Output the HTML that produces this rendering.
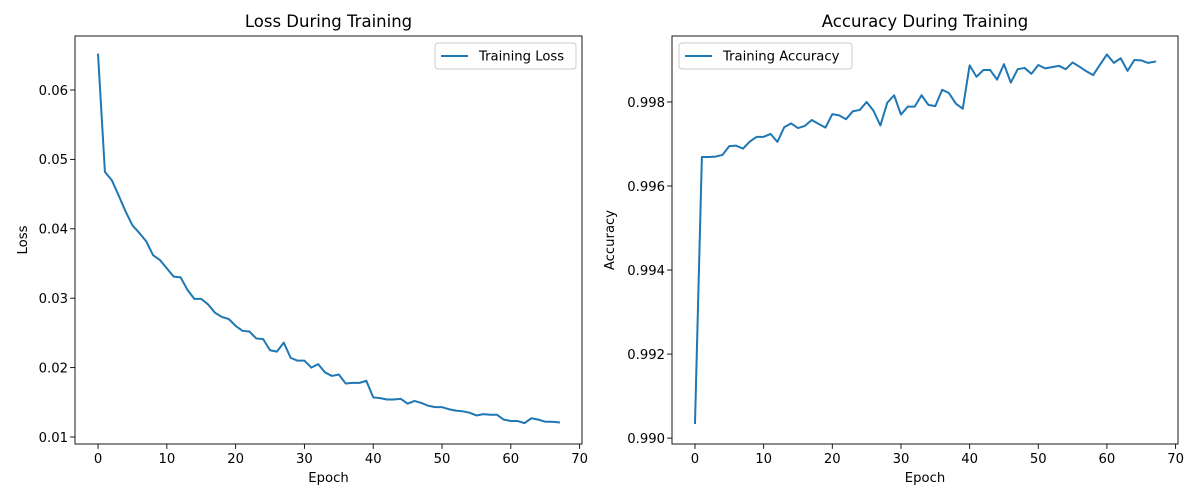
<!DOCTYPE html>
<html><head><meta charset="utf-8"><style>
html,body{margin:0;padding:0;background:#fff;}
svg{display:block;font-family:"DejaVu Sans","Liberation Sans",sans-serif;}
</style></head><body>
<svg id="fig" width="1200" height="500" viewBox="0 0 1200 500" xmlns="http://www.w3.org/2000/svg"></svg>
<script>
const epochs = Array.from({length:68},(_, i)=>i);
const lossValues = [0.0651,0.0482,0.0470,0.0448,0.0425,0.0405,0.0394,0.0382,0.0362,0.0355,0.0343,0.0331,0.0330,0.0312,0.0299,0.0299,0.0291,0.0279,0.0273,0.0270,0.0260,0.0253,0.0252,0.0242,0.0241,0.0225,0.0223,0.0236,0.0214,0.0210,0.0210,0.0200,0.0205,0.0193,0.0188,0.0190,0.0177,0.0178,0.0178,0.0181,0.0157,0.0156,0.0154,0.0154,0.0155,0.0148,0.0152,0.0149,0.0145,0.0143,0.0143,0.0140,0.0138,0.0137,0.0135,0.0131,0.0133,0.0132,0.0132,0.0125,0.0123,0.0123,0.0120,0.0127,0.0125,0.0122,0.0122,0.0121];
const accValues = [0.99036,0.99669,0.99669,0.99670,0.99674,0.99695,0.99696,0.99689,0.99706,0.99717,0.99717,0.99724,0.99705,0.99740,0.99749,0.99738,0.99743,0.99757,0.99748,0.99739,0.99771,0.99768,0.99759,0.99778,0.99781,0.99800,0.99779,0.99744,0.99798,0.99816,0.99770,0.99789,0.99789,0.99816,0.99793,0.99790,0.99829,0.99821,0.99796,0.99784,0.99887,0.99860,0.99876,0.99876,0.99853,0.99890,0.99846,0.99878,0.99881,0.99867,0.99888,0.99880,0.99883,0.99886,0.99878,0.99894,0.99884,0.99873,0.99864,0.99889,0.99913,0.99893,0.99904,0.99874,0.99900,0.99899,0.99893,0.99896];
const xTicks = [0,10,20,30,40,50,60,70];
const lossTicks = [0.01,0.02,0.03,0.04,0.05,0.06];
const lossTickLabels = ["0.01","0.02","0.03","0.04","0.05","0.06"];
const accTicks = [0.990,0.992,0.994,0.996,0.998];
const accTickLabels = ["0.990","0.992","0.994","0.996","0.998"];

const NS="http://www.w3.org/2000/svg";
const svg=document.getElementById('fig');
function mk(tag,attrs,parent,text){const e=document.createElementNS(NS,tag);for(const k in attrs)e.setAttribute(k,attrs[k]);if(text!==undefined)e.textContent=text;(parent||svg).appendChild(e);return e;}

function panel(opt){
  const {L,R,T,B,ymin,ymax,vals,yt,ytl,title,ylabel,legend,legendX,legendW,prefix}=opt;
  const xmin=-3.35,xmax=70.35;
  const sx=v=>L+(v-xmin)/(xmax-xmin)*(R-L);
  const sy=v=>B-(v-ymin)/(ymax-ymin)*(B-T);
  const g=mk('g',{});
  
  
  const t=mk('text',{x:(L+R)/2,y:T-9,'text-anchor':'middle','font-size':'16.5',fill:'#000'},g,title);
  
  
  xTicks.forEach(v=>{const x=sx(v);
    mk('line',{x1:x,x2:x,y1:B,y2:B+4.9,stroke:'#000','stroke-width':0.9},g);
    const l=mk('text',{x:x,y:B+19,'text-anchor':'middle','font-size':'13.2',fill:'#000'},g,String(v));
    
    
  });
  yt.forEach((v,i)=>{const y=sy(v);
    mk('line',{x1:L-4.9,x2:L,y1:y,y2:y,stroke:'#000','stroke-width':0.9},g);
    const l=mk('text',{x:L-7,y:y+4.8,'text-anchor':'end','font-size':'13.2',fill:'#000'},g,ytl[i]);
    
    
  });
  const xl=mk('text',{x:(L+R)/2,y:482,'text-anchor':'middle','font-size':'13.2',fill:'#000'},g,'Epoch');
  
  
  const yx=opt.ylabelX, yy=(T+B)/2;
  const yl=mk('text',{x:yx,y:yy,'text-anchor':'middle','font-size':'13.2',fill:'#000',transform:`rotate(-90 ${yx} ${yy})`},g,ylabel);
  
  
  const pts=epochs.map((e,i)=>sx(e).toFixed(2)+','+sy(vals[i]).toFixed(2)).join(' ');
  const line=mk('polyline',{points:pts,fill:'none',stroke:'#1f77b4','stroke-width':2,'stroke-linejoin':'round','stroke-linecap':'square'},g);
  
  
  const frame=mk('rect',{x:L,y:T,width:R-L,height:B-T,fill:'none',stroke:'#000','stroke-width':0.9},g);
  
  
  const lg=mk('g',{},g);
  
  
  mk('rect',{x:legendX,y:43,width:legendW,height:26,rx:3,fill:'#fff','fill-opacity':0.8,stroke:'#ccc','stroke-width':1},lg);
  mk('line',{x1:legendX+6,x2:legendX+33,y1:56,y2:56,stroke:'#1f77b4','stroke-width':2},lg);
  const lt=mk('text',{x:legendX+44,y:60.5,'font-size':'13.2',fill:'#000'},lg,legend);
  
  
}
panel({L:75,R:582,T:36,B:444,ymin:0.00899,ymax:0.06778,vals:lossValues,yt:lossTicks,ytl:lossTickLabels,title:'Loss During Training',ylabel:'Loss',legend:'Training Loss',legendX:435,legendW:141,prefix:'loss',ylabelX:27});
panel({L:672,R:1178,T:36,B:444,ymin:0.98986,ymax:0.99957,vals:accValues,yt:accTicks,ytl:accTickLabels,title:'Accuracy During Training',ylabel:'Accuracy',legend:'Training Accuracy',legendX:679,legendW:173,prefix:'accuracy',ylabelX:614});
</script>
</body></html>
